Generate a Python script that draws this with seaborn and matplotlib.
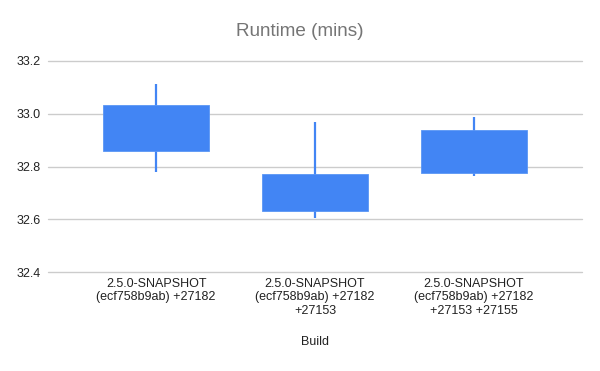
import matplotlib
matplotlib.use("Agg")
import matplotlib.pyplot as plt
import pandas as pd
import seaborn as sns

# Candlestick values (minutes)
BUILDS = [
    "2.5.0-SNAPSHOT\n(ecf758b9ab) +27182",
    "2.5.0-SNAPSHOT\n(ecf758b9ab) +27182\n+27153",
    "2.5.0-SNAPSHOT\n(ecf758b9ab) +27182\n+27153 +27155",
]
LOW = [32.781, 32.607, 32.763]
BOX_LOW = [32.859, 32.634, 32.777]
BOX_HIGH = [33.032, 32.771, 32.939]
HIGH = [33.113, 32.970, 32.988]

BLUE = "#4285F4"

sns.set_theme(style="white")
plt.rcParams["font.family"] = ["Liberation Sans", "DejaVu Sans"]

df = pd.DataFrame({"build": BUILDS, "low": LOW, "box_low": BOX_LOW,
                   "box_high": BOX_HIGH, "high": HIGH})
df["pos"] = range(len(df))

fig = plt.figure(figsize=(6, 3.71), dpi=100)
ax = fig.add_axes([0.08, 0.266, 0.89, 0.5696])

# wicks
ax.vlines(df["pos"], df["low"], df["high"], color=BLUE, linewidth=1.6, zorder=2)
# bodies
ax.bar(df["pos"], df["box_high"] - df["box_low"], bottom=df["box_low"],
       width=0.665, color=BLUE, edgecolor="#5a96f5", linewidth=0.6, zorder=3)

ax.set_ylim(32.4, 33.2)
ax.set_xlim(-0.68, 2.68)
ax.set_yticks([32.4, 32.6, 32.8, 33.0, 33.2])
ax.set_yticklabels([f"{v:.1f}" for v in [32.4, 32.6, 32.8, 33.0, 33.2]])
ax.set_xticks(df["pos"])
ax.set_xticklabels(df["build"], linespacing=1.15)
ax.grid(axis="y", color="#cccccc", linewidth=1)
for line in ax.get_ygridlines():
    line.set_clip_on(False)
ax.set_axisbelow(True)
sns.despine(ax=ax, left=True, bottom=True, top=True, right=True)
ax.tick_params(axis="both", length=0, labelsize=9, colors="#222222", pad=4)
ax.tick_params(axis="y", pad=5)

ax.set_xlabel("Build", fontsize=9, color="#222222", labelpad=14)
fig.text(0.5, 0.916, "Runtime (mins)", ha="center", va="center",
         fontsize=13.6, color="#757575")

fig.savefig("out.png", dpi=100)
